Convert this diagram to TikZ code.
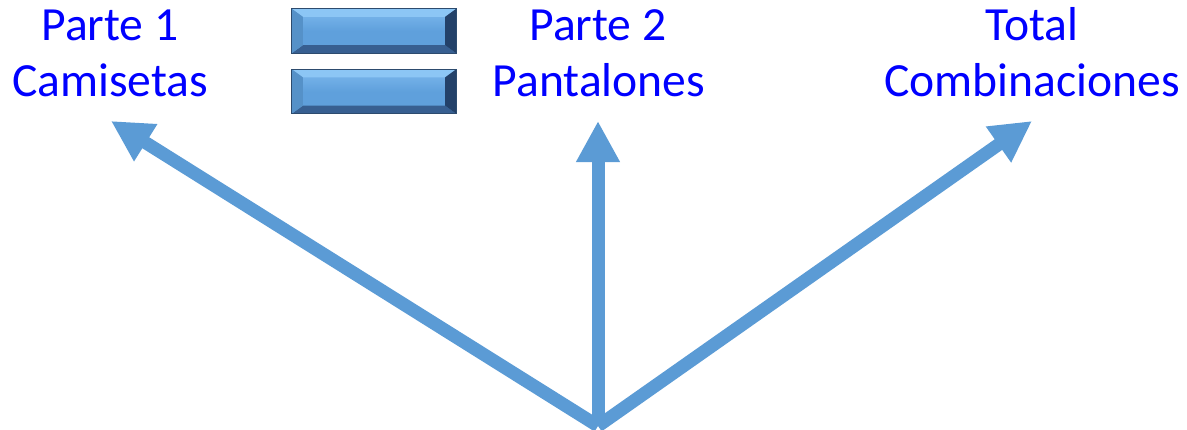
\documentclass[tikz,border=0pt]{standalone}
\usepackage{fontspec}
\setmainfont{Carlito}
\usetikzlibrary{arrows.meta}
\definecolor{arrowblue}{RGB}{91,155,213}
\definecolor{textblue}{RGB}{0,0,255}
\definecolor{eqdark}{RGB}{45,75,110}
\definecolor{eqface}{RGB}{95,160,220}
\definecolor{eqfacelight}{RGB}{125,185,238}
\definecolor{bevtopc}{RGB}{140,198,245}
\definecolor{bevleftc}{RGB}{85,145,200}
\definecolor{bevrightc}{RGB}{35,65,105}
\definecolor{bevbotc}{RGB}{55,95,145}
\newcommand\bevelbar[1]{%
  \fill[bevtopc] (#1.north west) -- (#1.north east) -- ([xshift=-11pt,yshift=-8pt]#1.north east) -- ([xshift=11pt,yshift=-8pt]#1.north west) -- cycle;
  \fill[bevbotc] (#1.south west) -- (#1.south east) -- ([xshift=-11pt,yshift=8pt]#1.south east) -- ([xshift=11pt,yshift=8pt]#1.south west) -- cycle;
  \fill[bevleftc] (#1.north west) -- ([xshift=11pt,yshift=-8pt]#1.north west) -- ([xshift=11pt,yshift=8pt]#1.south west) -- (#1.south west) -- cycle;
  \fill[bevrightc] (#1.north east) -- ([xshift=-11pt,yshift=-8pt]#1.north east) -- ([xshift=-11pt,yshift=8pt]#1.south east) -- (#1.south east) -- cycle;
  \draw[eqdark,line width=0.9pt] (#1.north west) rectangle (#1.south east);
}
\begin{document}
\begin{tikzpicture}[x=1pt,y=-1pt,
  lbl/.style={font=\fontsize{47.6}{57}\selectfont, text=textblue, anchor=base, inner sep=0pt},
  conn/.style={draw=arrowblue, line width=13pt, -{Triangle[length=41pt,width=41pt]}},
  eqbar/.style={minimum width=164pt, minimum height=44pt, inner sep=0pt, top color=eqfacelight, bottom color=eqface, middle color=eqface}
]
\useasboundingbox (0,0) rectangle (1187,429);
% labels
\node[lbl] (p1a) at (110,40) {Parte 1};
\node[lbl] (p1b) at (110,96) {Camisetas};
\node[lbl] (p2a) at (598,40) {Parte 2};
\node[lbl] (p2b) at (599,96) {Pantalones};
\node[lbl] (p3a) at (1032,40) {Total};
\node[lbl] (p3b) at (1032,96) {Combinaciones};
% equals sign bars
\node[eqbar] (eq1) at (374,31) {};
\bevelbar{eq1}
\node[eqbar] (eq2) at (374,91.5) {};
\bevelbar{eq2}
% arrows
\coordinate (o) at (598,426);
\coordinate (tipL) at (111,121);
\coordinate (tipM) at (598,121);
\coordinate (tipR) at (1032,121);
\draw[conn] (o) -- (tipL);
\draw[conn] (o) -- (tipR);
\draw[conn] (o) -- (tipM);
\end{tikzpicture}
\end{document}
